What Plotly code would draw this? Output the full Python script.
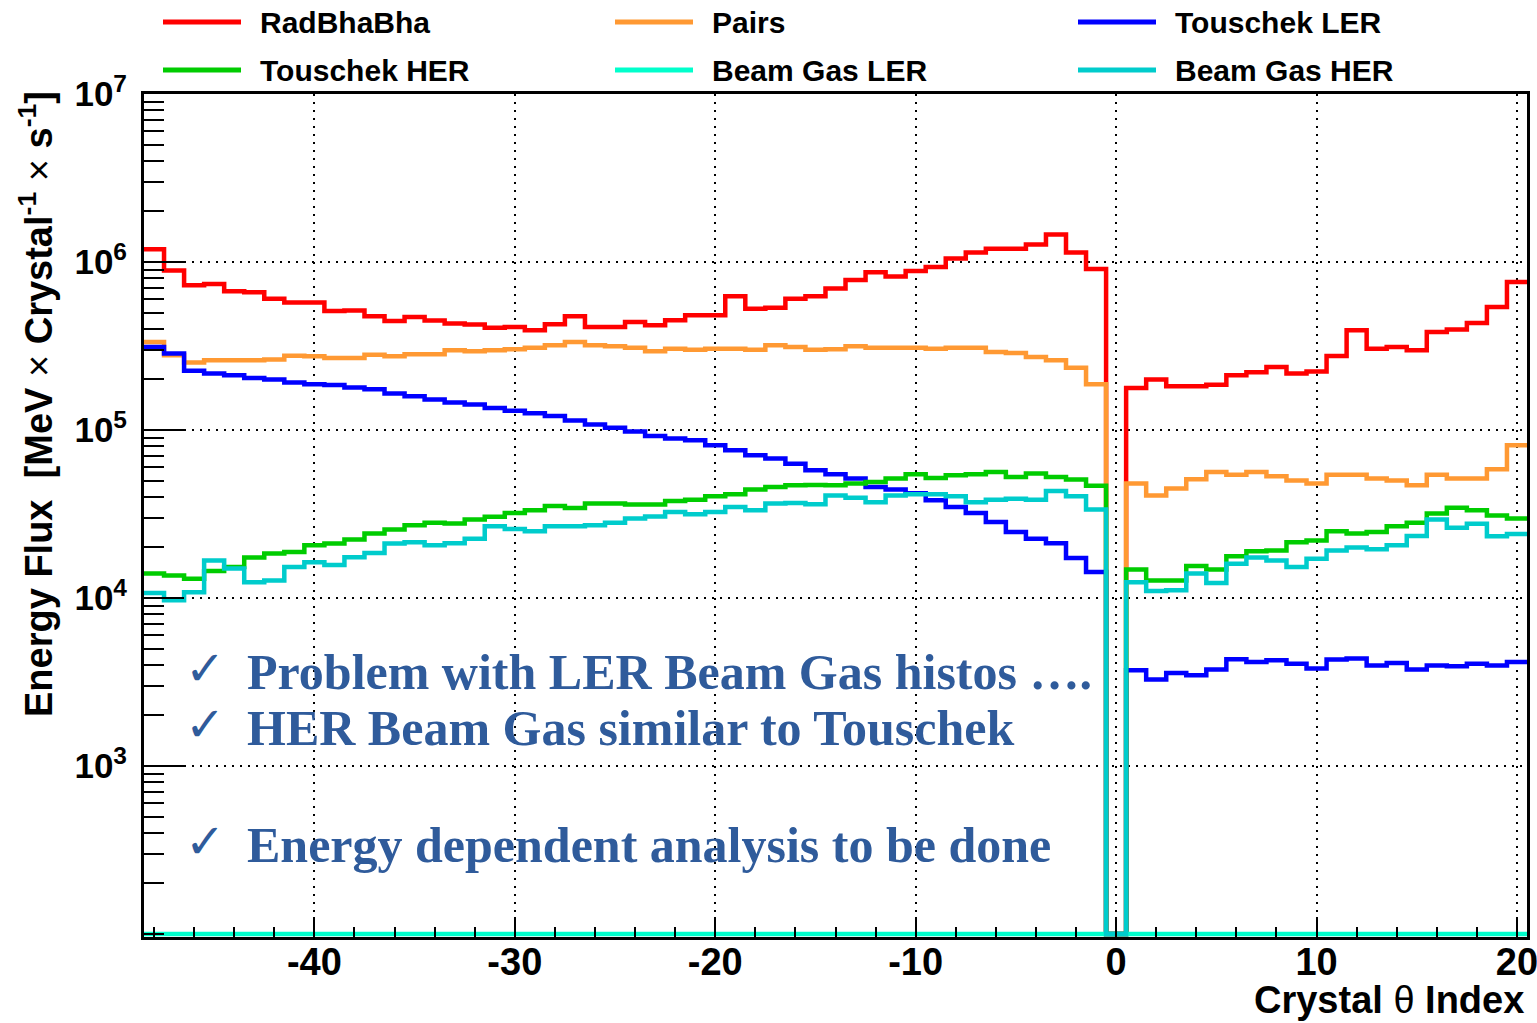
import plotly.graph_objects as go

# crystal theta index bins (-48 .. 20), one value per bin
bins = list(range(-48, 21))

rad_bhabha = [
    1.19e6, 8.9e5, 7.27e5, 7.4e5, 6.7e5, 6.6e5, 6.05e5, 5.73e5, 5.73e5, 5.1e5,
    5.15e5, 4.75e5, 4.46e5, 4.71e5, 4.48e5, 4.3e5, 4.24e5, 4.06e5, 4.1e5, 3.92e5,
    4.26e5, 4.75e5, 4.1e5, 4.1e5, 4.4e5, 4.2e5, 4.5e5, 4.82e5, 4.82e5, 6.25e5,
    5.27e5, 5.35e5, 6.05e5, 6.25e5, 6.95e5, 7.8e5, 8.7e5, 8.2e5, 8.84e5, 9.33e5,
    1.05e6, 1.14e6, 1.2e6, 1.2e6, 1.27e6, 1.46e6, 1.14e6, 9.1e5,
    0,
    1.78e5, 2.0e5, 1.82e5, 1.82e5, 1.86e5, 2.12e5, 2.21e5, 2.37e5, 2.17e5, 2.23e5,
    2.76e5, 3.92e5, 3.05e5, 3.12e5, 2.98e5, 3.83e5, 3.97e5, 4.33e5, 5.4e5, 7.6e5,
]

pairs = [
    3.34e5, 2.79e5, 2.52e5, 2.6e5, 2.6e5, 2.6e5, 2.63e5, 2.77e5, 2.75e5, 2.68e5,
    2.68e5, 2.8e5, 2.75e5, 2.82e5, 2.82e5, 2.98e5, 2.94e5, 2.98e5, 3.02e5, 3.09e5,
    3.19e5, 3.34e5, 3.19e5, 3.15e5, 3.09e5, 2.94e5, 3.05e5, 3.0e5, 3.05e5, 3.05e5,
    3.0e5, 3.19e5, 3.12e5, 3.0e5, 3.02e5, 3.15e5, 3.09e5, 3.09e5, 3.09e5, 3.05e5,
    3.09e5, 3.09e5, 2.91e5, 2.87e5, 2.72e5, 2.6e5, 2.35e5, 1.87e5,
    0,
    4.8e4, 4.08e4, 4.48e4, 5.09e4, 5.63e4, 5.42e4, 5.63e4, 5.3e4, 5.0e4, 4.8e4,
    5.42e4, 5.42e4, 5.14e4, 5.0e4, 4.69e4, 5.42e4, 5.14e4, 5.14e4, 5.83e4, 8.1e4,
]

touschek_ler = [
    3.12e5, 2.85e5, 2.25e5, 2.17e5, 2.12e5, 2.04e5, 2.0e5, 1.92e5, 1.87e5, 1.85e5,
    1.79e5, 1.75e5, 1.65e5, 1.59e5, 1.52e5, 1.46e5, 1.42e5, 1.35e5, 1.3e5, 1.26e5,
    1.21e5, 1.14e5, 1.08e5, 1.03e5, 9.8e4, 9.2e4, 8.9e4, 8.7e4, 8.1e4, 7.57e4,
    7.07e4, 6.76e4, 6.3e4, 5.75e4, 5.45e4, 5.14e4, 4.58e4, 4.42e4, 4.2e4, 3.82e4,
    3.48e4, 3.21e4, 2.83e4, 2.47e4, 2.25e4, 2.12e4, 1.73e4, 1.43e4,
    0,
    3.72e3, 3.27e3, 3.58e3, 3.47e3, 3.75e3, 4.32e3, 4.16e3, 4.26e3, 4.06e3, 3.8e3,
    4.3e3, 4.36e3, 3.97e3, 4.1e3, 3.75e3, 3.97e3, 3.92e3, 4.06e3, 3.97e3, 4.16e3,
]

touschek_her = [
    1.4e4, 1.36e4, 1.3e4, 1.45e4, 1.53e4, 1.74e4, 1.84e4, 1.88e4, 2.06e4, 2.11e4,
    2.23e4, 2.42e4, 2.56e4, 2.71e4, 2.8e4, 2.78e4, 2.93e4, 3.04e4, 3.2e4, 3.33e4,
    3.53e4, 3.43e4, 3.65e4, 3.65e4, 3.6e4, 3.6e4, 3.78e4, 3.85e4, 4.03e4, 4.14e4,
    4.42e4, 4.58e4, 4.69e4, 4.7e4, 4.69e4, 4.8e4, 4.9e4, 5.14e4, 5.45e4, 5.18e4,
    5.37e4, 5.45e4, 5.63e4, 5.25e4, 5.5e4, 5.25e4, 5.07e4, 4.65e4,
    0,
    1.48e4, 1.27e4, 1.27e4, 1.55e4, 1.48e4, 1.77e4, 1.9e4, 1.92e4, 2.15e4, 2.2e4,
    2.5e4, 2.42e4, 2.47e4, 2.67e4, 2.8e4, 3.18e4, 3.45e4, 3.33e4, 3.1e4, 2.97e4,
]

beam_gas_ler = [0] * 69  # empty histogram

beam_gas_her = [
    1.07e4, 9.7e3, 1.08e4, 1.67e4, 1.5e4, 1.24e4, 1.27e4, 1.53e4, 1.63e4, 1.57e4,
    1.75e4, 1.85e4, 2.11e4, 2.15e4, 2.06e4, 2.12e4, 2.25e4, 2.67e4, 2.57e4, 2.5e4,
    2.67e4, 2.67e4, 2.71e4, 2.8e4, 2.97e4, 3.06e4, 3.25e4, 3.15e4, 3.25e4, 3.48e4,
    3.33e4, 3.65e4, 3.68e4, 3.61e4, 4.08e4, 3.95e4, 3.72e4, 4.08e4, 4.14e4, 4.14e4,
    4.03e4, 3.72e4, 3.85e4, 3.9e4, 3.85e4, 4.33e4, 4.03e4, 3.36e4,
    0,
    1.24e4, 1.1e4, 1.11e4, 1.4e4, 1.23e4, 1.6e4, 1.74e4, 1.67e4, 1.53e4, 1.71e4,
    1.92e4, 2.0e4, 1.95e4, 2.06e4, 2.34e4, 2.93e4, 2.62e4, 2.77e4, 2.33e4, 2.4e4,
]

names = ["RadBhaBha", "Pairs", "Touschek LER", "Touschek HER", "Beam Gas LER", "Beam Gas HER"]
colors = ["#ff0000", "#ff9933", "#0000ff", "#00cc00", "#00ffcc", "#00cccc"]
series = [rad_bhabha, pairs, touschek_ler, touschek_her, beam_gas_ler, beam_gas_her]

x_ticks = [-40, -30, -20, -10, 0, 10, 20]
y_tick_exp = [3, 4, 5, 6, 7]

notes = [
    "Problem with LER Beam Gas histos ….",
    "HER Beam Gas similar to Touschek",
    "Energy dependent analysis to be done",
]

W, H = 1537, 1023
ML, MR, MT, MB = 144, 10, 94, 86
Y_FLOOR = 1e2  # empty bins are drawn on the axis floor, like ROOT does


def px(x):
    return (x - ML) / (W - ML - MR)


def py(y):
    return (H - MB - y) / (H - MT - MB)


edges = [b - 0.5 for b in bins] + [bins[-1] + 0.5]

fig = go.Figure()
for name, col, vals in zip(names, colors, series):
    yy = [v if v > 0 else Y_FLOOR for v in vals]
    fig.add_trace(go.Scatter(
        x=edges, y=yy + [yy[-1]],
        mode="lines", line=dict(color=col, width=4.5, shape="hv"),
        name=name, showlegend=False, hoverinfo="skip"))

# legend drawn ROOT-style: 3 columns x 2 rows
shapes = []
annotations = []
col_x = [163, 615, 1078]
row_y = [22, 70]
for i, (name, col) in enumerate(zip(names, colors)):
    cx = col_x[i % 3]
    ry = row_y[i // 3]
    shapes.append(dict(type="line", xref="paper", yref="paper",
                       x0=px(cx), x1=px(cx + 78), y0=py(ry), y1=py(ry),
                       line=dict(color=col, width=5)))
    annotations.append(dict(text="<b>%s</b>" % name, xref="paper", yref="paper",
                            x=px(cx + 95), y=py(ry + 1), xanchor="left", yanchor="middle",
                            showarrow=False,
                            font=dict(family="Liberation Sans", size=30, color="black")))

# axis titles
annotations.append(dict(
    text="<b>Energy Flux  [MeV</b> × <b>Crystal<sup>-1</sup></b> × <b>s<sup>-1</sup>]</b>",
    xref="paper", yref="paper", x=px(36), y=py(404), xanchor="center", yanchor="middle",
    textangle=-90, showarrow=False,
    font=dict(family="Liberation Sans", size=38, color="black")))
annotations.append(dict(
    text="<b>Crystal</b> θ <b>Index</b>",
    xref="paper", yref="paper", x=px(1526), y=py(1000), xanchor="right", yanchor="middle",
    showarrow=False, font=dict(family="Liberation Sans", size=38, color="black")))

# notes on the plot
note_y = [672, 728, 845]
for txt, ny in zip(notes, note_y):
    annotations.append(dict(text="✓", xref="paper", yref="paper", x=px(205), y=py(ny - 4),
                            xanchor="center", yanchor="middle", showarrow=False,
                            font=dict(family="DejaVu Sans", size=48, color="#2f5b9b")))
    annotations.append(dict(text="<b>%s</b>" % txt, xref="paper", yref="paper",
                            x=px(245), y=py(ny), xanchor="left", yanchor="middle",
                            showarrow=False,
                            font=dict(family="Liberation Serif", size=50, color="#2f5b9b")))

fig.update_layout(
    width=W, height=H,
    margin=dict(l=ML, r=MR, t=MT, b=MB, autoexpand=False),
    paper_bgcolor="white", plot_bgcolor="white",
    shapes=shapes, annotations=annotations,
    showlegend=False,
)

fig.update_xaxes(
    range=[-48.5, 20.5], automargin=False,
    tickvals=x_ticks, ticktext=["<b>%d</b>" % v for v in x_ticks],
    tickfont=dict(family="Liberation Sans", size=38, color="black"),
    ticks="inside", ticklen=20, tickwidth=2, tickcolor="black",
    ticklabelstandoff=-11, ticklabeloverflow="allow",
    minor=dict(dtick=2, ticks="inside", ticklen=10, tickwidth=2, tickcolor="black",
               showgrid=False),
    showgrid=True, gridcolor="black", gridwidth=2, griddash="2px,6px",
    showline=True, linecolor="black", linewidth=3, mirror=True,
    zeroline=False,
)

fig.update_yaxes(
    type="log", range=[1.982, 7], automargin=False,
    tickvals=[10 ** e for e in y_tick_exp],
    ticktext=["<b>10<sup>%d</sup></b>" % e for e in y_tick_exp],
    tickfont=dict(family="Liberation Sans", size=35, color="black"),
    ticks="inside", ticklen=40, tickwidth=2, tickcolor="black",
    ticklabelstandoff=7, ticklabeloverflow="allow",
    minor=dict(dtick="D1", ticks="inside", ticklen=20, tickwidth=2, tickcolor="black",
               showgrid=False),
    showgrid=True, gridcolor="black", gridwidth=2, griddash="2px,6px",
    showline=True, linecolor="black", linewidth=3, mirror=True,
    zeroline=False,
)

# drop the page's default body margin so the figure sits at the window's corner
fig.write_html("out.html", config={"displayModeBar": False},
               post_script="document.body.style.margin = '0px';")
